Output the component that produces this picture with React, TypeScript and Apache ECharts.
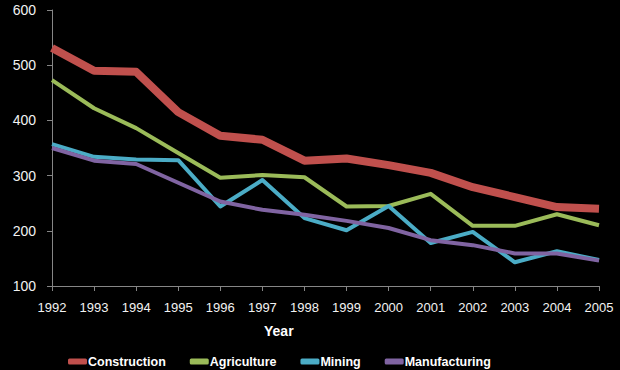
import React, { useEffect, useRef } from "react";
import * as echarts from "echarts";

const years = ["1992","1993","1994","1995","1996","1997","1998","1999","2000","2001","2002","2003","2004","2005"];
const construction = [531, 490, 488, 415, 372, 365, 327, 331, 319, 305, 279, 261, 243, 240];
const agriculture = [473, 422, 386, 341, 296, 301, 297, 244, 245, 267, 209, 209, 230, 210];
const mining = [357, 334, 329, 328, 244, 292, 223, 201, 245, 178, 198, 143, 163, 147];
const manufacturing = [350, 327, 321, 287, 253, 238, 229, 218, 205, 183, 174, 159, 159, 146];

const FONT = "'Liberation Sans', Arial, sans-serif";

export default function App() {
  const ref = useRef<HTMLDivElement>(null);
  useEffect(() => {
    if (!ref.current) return;
    const chart = echarts.init(ref.current, null, { renderer: "svg" });
    const mk = (name: string, data: number[], color: string, width: number) => ({
      name,
      type: "line",
      data,
      symbol: "none",
      itemStyle: { color },
      lineStyle: { color, width, join: "round" },
    });
    chart.setOption({
      animation: false,
      backgroundColor: "#000000",
      grid: { left: 52, right: 21, top: 10, bottom: 84, containLabel: false },
      legend: {
        left: 63,
        top: 350,
        icon: "roundRect",
        itemWidth: 19,
        itemHeight: 6,
        itemGap: 24,
        textStyle: { color: "#ffffff", fontFamily: FONT, fontWeight: "bold", fontSize: 12.5, padding: [0, 0, 0, -4] },
        data: ["Construction", "Agriculture", "Mining", "Manufacturing"],
      },
      graphic: [
        {
          type: "text",
          left: 264,
          top: 324,
          style: { text: "Year", fill: "#ffffff", font: `bold 14px ${FONT}` },
        },
      ],
      xAxis: {
        type: "category",
        data: years,
        boundaryGap: false,
        axisLine: { show: true, lineStyle: { color: "#868686", width: 1 } },
        axisTick: { show: true, length: 5, lineStyle: { color: "#868686" } },
        axisLabel: { color: "#f2f2f2", fontFamily: FONT, fontSize: 13, margin: 15, interval: 0 },
        splitLine: { show: false },
      },
      yAxis: {
        type: "value",
        min: 100,
        max: 600,
        interval: 100,
        axisLine: { show: true, lineStyle: { color: "#868686", width: 1 } },
        axisTick: { show: true, length: 5, lineStyle: { color: "#868686" } },
        axisLabel: { color: "#f2f2f2", fontFamily: FONT, fontSize: 14, margin: 16 },
        splitLine: { show: false },
      },
      series: [
        mk("Construction", construction, "#c0504d", 8),
        mk("Agriculture", agriculture, "#9bbb59", 4),
        mk("Mining", mining, "#4bacc6", 4),
        mk("Manufacturing", manufacturing, "#8064a2", 4),
      ],
    });
    return () => chart.dispose();
  }, []);
  return <div ref={ref} style={{ width: 620, height: 370, position: "absolute", left: 0, top: 0 }} />;
}
